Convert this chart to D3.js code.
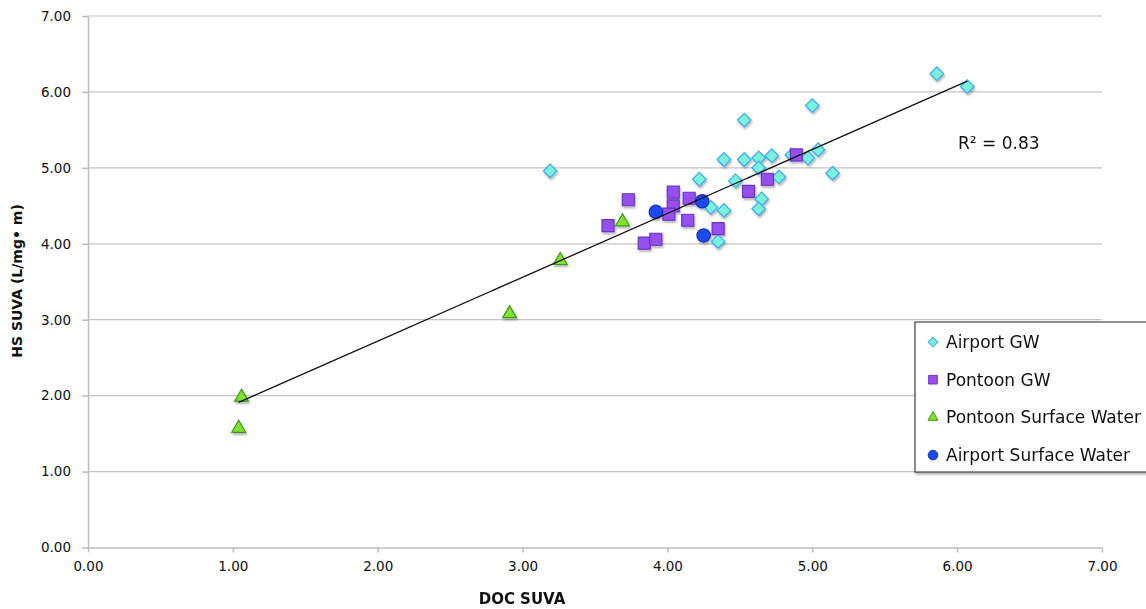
<!DOCTYPE html>
<html>
<head>
<meta charset="utf-8">
<script src="https://cdn.jsdelivr.net/npm/d3@7"></script>
<style>
  body { margin: 0; background: #fff; }
  svg { display: block; font-family: "DejaVu Sans", sans-serif; }
</style>
</head>
<body>
<svg id="chart"></svg>
<script>
// values: [DOC SUVA, HS SUVA]
const airportGW = [
  [5.86, 6.24], [6.07, 6.07], [5.00, 5.82], [4.53, 5.63], [3.19, 4.96],
  [5.04, 5.24], [4.97, 5.13], [4.86, 5.17], [4.39, 5.11], [4.53, 5.11],
  [4.63, 5.13], [4.72, 5.16], [4.63, 5.00], [5.14, 4.93], [4.77, 4.88],
  [4.22, 4.85], [4.47, 4.83], [4.65, 4.59], [4.63, 4.46], [4.30, 4.48],
  [4.39, 4.44], [4.35, 4.03]
];
const pontoonGW = [
  [4.89, 5.17], [4.69, 4.85], [4.56, 4.69], [3.73, 4.58], [4.04, 4.68],
  [4.15, 4.60], [4.04, 4.50], [4.01, 4.39], [4.14, 4.31], [3.59, 4.24],
  [3.84, 4.01], [3.92, 4.06], [4.35, 4.20]
];
const pontoonSW = [
  [3.26, 3.78], [2.91, 3.08], [1.06, 1.98], [1.04, 1.57], [3.69, 4.29]
];
const airportSW = [
  [3.92, 4.42], [4.24, 4.56], [4.25, 4.11]
];
const xTicks = [0, 1, 2, 3, 4, 5, 6, 7];
const yTicks = [0, 1, 2, 3, 4, 5, 6, 7];
const rSquaredLabel = "R² = 0.83";

const width = 1146, height = 609;
const plotLeft = 88, plotRight = 1102, plotTop = 16, plotBottom = 547.5;

const svg = d3.select("#chart").attr("width", width).attr("height", height);

const defs = svg.append("defs");
const shadow = defs.append("filter").attr("id", "shadow")
    .attr("x", "-50%").attr("y", "-50%").attr("width", "200%").attr("height", "200%");
shadow.append("feDropShadow")
    .attr("dx", 1).attr("dy", 2).attr("stdDeviation", 1)
    .attr("flood-color", "#000").attr("flood-opacity", 0.3);

const x = d3.scaleLinear().domain([0, 7]).range([plotLeft, plotRight]);
const y = d3.scaleLinear().domain([0, 7]).range([plotBottom, plotTop]);

// horizontal gridlines
svg.append("g")
    .selectAll("line")
    .data(yTicks.filter(d => d > 0))
    .enter()
    .append("line")
    .attr("x1", plotLeft).attr("x2", plotRight)
    .attr("y1", d => y(d)).attr("y2", d => y(d))
    .attr("stroke", "#c4c4c4")
    .attr("stroke-width", 1.2);

// axes
const xAxis = svg.append("g")
    .attr("transform", `translate(0,${plotBottom})`)
    .call(d3.axisBottom(x).tickValues(xTicks).tickFormat(d3.format(".2f")).tickSizeOuter(0).tickSizeInner(5).tickPadding(9));
const yAxis = svg.append("g")
    .attr("transform", `translate(${plotLeft},0)`)
    .call(d3.axisLeft(y).tickValues(yTicks).tickFormat(d3.format(".2f")).tickSizeOuter(0).tickSizeInner(6).tickPadding(11));

[xAxis, yAxis].forEach(a => {
    a.select(".domain").attr("stroke", "#bdbdbd").attr("stroke-width", 1.5);
    a.selectAll(".tick line").attr("stroke", "#bdbdbd").attr("stroke-width", 1.5);
    a.selectAll(".tick text")
        .attr("fill", "#111")
        .style("font-size", "13.5px")
        .style("font-family", "'DejaVu Sans', sans-serif");
});

// series styles
const series = [
    { name: "Airport GW", data: airportGW, shape: "diamond", fill: "#79f2dc", stroke: "#3fa8f0" },
    { name: "Pontoon GW", data: pontoonGW, shape: "square", fill: "#9650ee", stroke: "#6b35c4" },
    { name: "Pontoon Surface Water", data: pontoonSW, shape: "triangle", fill: "#7fe22e", stroke: "#3f9a1c" },
    { name: "Airport Surface Water", data: airportSW, shape: "circle", fill: "#1c48f2", stroke: "#1534b0" }
];

function markerPath(shape, scale) {
    const s = scale || 1;
    if (shape === "diamond") return d3.symbol().type(d3.symbolSquare).size(92 * s * s)();
    if (shape === "square") return d3.symbol().type(d3.symbolSquare).size(144 * s * s)();
    if (shape === "triangle") return d3.symbol().type(d3.symbolTriangle).size(84 * s * s)();
    return d3.symbol().type(d3.symbolCircle).size(140 * s * s)();
}

const marks = svg.append("g").attr("filter", "url(#shadow)");
series.forEach(sr => {
    marks.append("g")
        .selectAll("path")
        .data(sr.data)
        .enter()
        .append("path")
        .attr("d", markerPath(sr.shape))
        .attr("transform", d => `translate(${x(d[0])},${y(d[1])})` + (sr.shape === "diamond" ? " rotate(45)" : ""))
        .attr("fill", sr.fill)
        .attr("stroke", sr.stroke)
        .attr("stroke-width", 1.2);
});

// linear trend line over all points
const all = airportGW.concat(pontoonGW, pontoonSW, airportSW);
const mx = d3.mean(all, d => d[0]);
const my = d3.mean(all, d => d[1]);
const slope = d3.sum(all, d => (d[0] - mx) * (d[1] - my)) / d3.sum(all, d => (d[0] - mx) ** 2);
const intercept = my - slope * mx;
const xExt = d3.extent(all, d => d[0]);

svg.append("line")
    .attr("x1", x(xExt[0])).attr("y1", y(intercept + slope * xExt[0]))
    .attr("x2", x(xExt[1])).attr("y2", y(intercept + slope * xExt[1]))
    .attr("stroke", "#111")
    .attr("stroke-width", 1.3);

svg.append("text")
    .attr("x", 958).attr("y", 149)
    .attr("fill", "#111")
    .style("font-size", "17px")
    .text(rSquaredLabel);

// axis titles
svg.append("text")
    .attr("x", 522).attr("y", 604)
    .attr("text-anchor", "middle")
    .attr("fill", "#111")
    .style("font-size", "15px").style("font-weight", "bold")
    .text("DOC SUVA");

svg.append("text")
    .attr("transform", "translate(22,281) rotate(-90)")
    .attr("text-anchor", "middle")
    .attr("fill", "#111")
    .style("font-size", "14px").style("font-weight", "bold")
    .text("HS SUVA (L/mg• m)");

// legend
const legend = svg.append("g").attr("transform", "translate(915,322)");
legend.append("rect")
    .attr("width", 240).attr("height", 150)
    .attr("fill", "#fff")
    .attr("stroke", "#444")
    .attr("stroke-width", 1.2)
    .attr("filter", "url(#shadow)");

const items = legend.selectAll(".item")
    .data(series)
    .enter()
    .append("g")
    .attr("class", "item")
    .attr("transform", (d, i) => `translate(18,${20 + i * 37.7})`);

items.append("path")
    .attr("d", d => markerPath(d.shape, 0.72))
    .attr("transform", d => d.shape === "diamond" ? "rotate(45)" : null)
    .attr("fill", d => d.fill)
    .attr("stroke", d => d.stroke)
    .attr("stroke-width", 1);

items.append("text")
    .attr("x", 13).attr("y", 6)
    .attr("fill", "#111")
    .style("font-size", "17px")
    .text(d => d.name);
</script>
</body>
</html>
